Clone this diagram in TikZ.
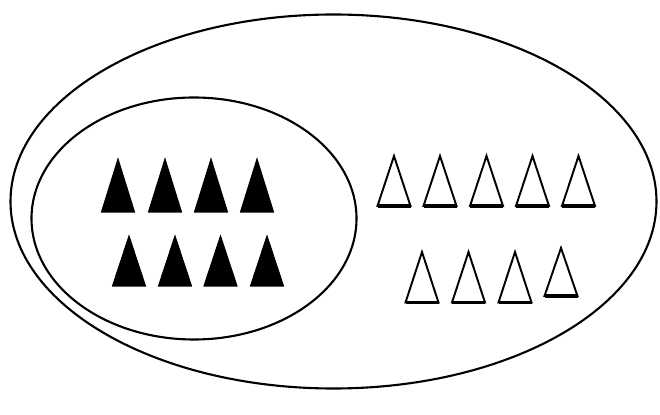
\documentclass[tikz,border=0pt]{standalone}
\begin{document}
\begin{tikzpicture}[x=0.02cm,y=-0.02cm,
  ring/.style={draw=black,line width=1.2pt},
  solidtri/.style={fill=black,draw=black,line width=0.6pt,line join=miter},
  opentri/.style={fill=white,draw=black,line width=1.1pt,line join=miter},
  tribase/.style={draw=black,line width=1.8pt}]
\useasboundingbox (0,0) rectangle (660,415);
\fill[white] (0,0) rectangle (660,415);
% outer and inner ellipses
\draw[ring] (333.5,201.5) ellipse [x radius=323, y radius=187];
\draw[ring] (194,218.5) ellipse [x radius=162.5, y radius=121];
% filled triangles
\foreach \x in {118,165,211,257}
  \draw[solidtri] (\x-16.5,212) -- (\x,159) -- (\x+16.5,212) -- cycle;
\foreach \x in {129,175,220.5,267}
  \draw[solidtri] (\x-16.5,286) -- (\x,236) -- (\x+16.5,286) -- cycle;
% open triangles
\foreach \x in {394,440,486.5,532.5,578.5}{
  \draw[opentri] (\x-16.5,206) -- (\x,156) -- (\x+16.5,206) -- cycle;
  \draw[tribase] (\x-16.5,206) -- (\x+16.5,206);}
\foreach \x in {422,468.5,515}{
  \draw[opentri] (\x-16.5,302.5) -- (\x,252) -- (\x+16.5,302.5) -- cycle;
  \draw[tribase] (\x-16.5,302.5) -- (\x+16.5,302.5);}
\draw[opentri] (544.5,296) -- (561,248) -- (577.5,296) -- cycle;
\draw[tribase] (544.5,296) -- (577.5,296);
\end{tikzpicture}
\end{document}
